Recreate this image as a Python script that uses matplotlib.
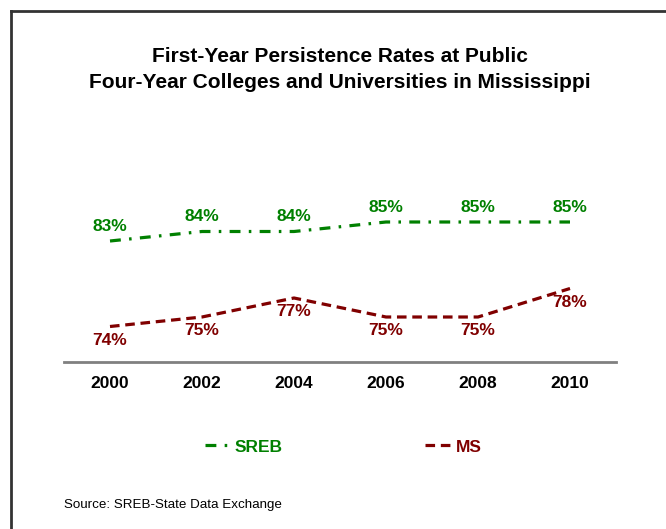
#!/usr/bin/env python3

import matplotlib.pyplot as plt

plt.rcParams['font.family'] = ['Liberation Sans', 'DejaVu Sans']

years = ['2000', '2002', '2004', '2006', '2008', '2010']
sreb = [83, 84, 84, 85, 85, 85]
ms = [74, 75, 77, 75, 75, 78]
sreb_color = '#008000'
ms_color = '#800000'

W, H = 666, 529
fig = plt.figure(figsize=(W / 100, H / 100), dpi=100)

# frame round the picture (only top and left edges are visible)
fig.add_artist(plt.Line2D([11 / W, 11 / W], [0, 1 - 11 / H], color='#333333', lw=2))
fig.add_artist(plt.Line2D([11 / W, 1], [1 - 11 / H, 1 - 11 / H], color='#333333', lw=2))

fig.text(340 / W, 1 - 62 / H, 'First-Year Persistence Rates at Public',
         ha='center', va='baseline', fontsize=15, fontweight='bold')
fig.text(340 / W, 1 - 88 / H, 'Four-Year Colleges and Universities in Mississippi',
         ha='center', va='baseline', fontsize=15, fontweight='bold')

# 85 -> y=222 px, 9.5 px per point, axis line at y=362
ax = fig.add_axes([64 / W, (H - 362) / H, 552 / W, 212 / H])
x = range(len(years))
ax.plot(x, sreb, color=sreb_color, lw=2.3, linestyle=(0, (3.4, 2.6, 0.8, 2.6)), label='SREB')
ax.plot(x, ms, color=ms_color, lw=2.3, linestyle=(0, (3.0, 1.8)), label='MS')

for i, v in enumerate(sreb):
    ax.annotate(f'{v}%', (i, v), xytext=(0, 7.5), textcoords='offset points',
                ha='center', va='baseline', color=sreb_color, fontsize=12.5, fontweight='bold')
for i, v in enumerate(ms):
    ax.annotate(f'{v}%', (i, v), xytext=(0, -4.5), textcoords='offset points',
                ha='center', va='top', color=ms_color, fontsize=12.5, fontweight='bold')

ax.set_xlim(-0.5, 5.5)
ax.set_ylim(85 - 140 / 9.5, 85 + 72 / 9.5)
ax.set_xticks(list(x))
ax.set_xticklabels(years, fontsize=12.5, fontweight='bold')
ax.tick_params(axis='x', length=0, pad=10)
ax.set_yticks([])
for s in ['top', 'left', 'right']:
    ax.spines[s].set_visible(False)
ax.spines['bottom'].set_color('#808080')
ax.spines['bottom'].set_linewidth(2)

leg = fig.legend(loc='center', bbox_to_anchor=(343 / W, 1 - 447 / H), ncol=2,
                 frameon=False, handlelength=1.5, handletextpad=0.25, columnspacing=8.2,
                 prop={'weight': 'bold', 'size': 12.5})
for t, c in zip(leg.get_texts(), [sreb_color, ms_color]):
    t.set_color(c)

fig.text(64 / W, 1 - 508 / H, 'Source: SREB-State Data Exchange',
         ha='left', va='baseline', fontsize=9.6)

fig.savefig('out.png', dpi=100)
plt.close()
